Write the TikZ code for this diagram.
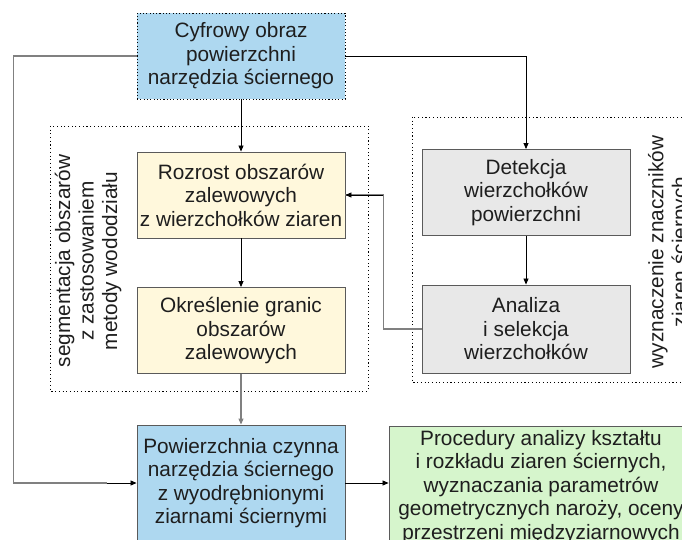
\documentclass[tikz,border=0pt]{standalone}
\usepackage{fontspec}
\setmainfont{Liberation Sans}
\usetikzlibrary{arrows.meta}
\definecolor{boxblue}{RGB}{174,216,240}
\definecolor{boxyellow}{RGB}{255,248,220}
\definecolor{boxgray}{RGB}{232,232,232}
\definecolor{boxgreen}{RGB}{214,245,204}
\definecolor{edgegray}{RGB}{90,90,90}
\definecolor{linegray}{RGB}{128,128,128}
\definecolor{txt}{RGB}{30,30,30}
\tikzset{
  txtfont/.style={font=\fontsize{20.8}{23.5}\selectfont, text=txt},
  procbox/.style={txtfont, draw=edgegray, line width=0.9pt, align=center,
    inner sep=0pt, minimum width=208pt, minimum height=86pt},
  groupframe/.style={draw=black, line width=0.8pt, dash pattern=on 1.1pt off 2.6pt},
  sidelabel/.style={txtfont, rotate=90, align=center, inner sep=0pt},
  flow/.style={draw=black, line width=0.8pt, -{Triangle[length=6pt,width=5pt]}},
  graylink/.style={draw=linegray, line width=1.1pt},
}
\begin{document}
\begin{tikzpicture}[x=1pt,y=-1pt]
\useasboundingbox (0,0) rectangle (682,540);
\clip (0,0) rectangle (682,540);

% group frames
\draw[groupframe] (50,126) rectangle (368,391);
\draw[groupframe] (412,117) rectangle (700,382);

% process boxes
\node[procbox, fill=boxblue, draw=black, dash pattern=on 1.1pt off 2.2pt]
  (src) at (241,56) {Cyfrowy obraz\\powierzchni\\narzędzia ściernego};
\node[procbox, fill=boxyellow] (grow) at (241,195)
  {Rozrost obszarów\\zalewowych\\z wierzchołków ziaren};
\node[procbox, fill=boxyellow] (edge) at (241,330.5)
  {Określenie granic\\obszarów\\zalewowych};
\node[procbox, fill=boxgray] (peak) at (526,192.5)
  {Detekcja\\wierzchołków\\powierzchni};
\node[procbox, fill=boxgray, minimum height=88pt] (sel) at (526,329)
  {Analiza\\i selekcja\\wierzchołków};
\node[procbox, fill=boxblue, minimum height=116pt] (surf) at (241,483)
  {Powierzchnia czynna\\narzędzia ściernego\\z wyodrębnionymi\\ziarnami ściernymi};
\node[procbox, fill=boxgreen, minimum width=304pt, minimum height=122pt] (proc) at (541,487)
  {Procedury analizy kształtu\\i rozkładu ziaren ściernych,\\wyznaczania parametrów\\geometrycznych naroży, oceny\\przestrzeni międzyziarnowych};

% group labels
\node[sidelabel] (lblseg) at (88,261)
  {segmentacja obszarów\\z zastosowaniem\\metody wododziału};
\node[sidelabel] (lblmark) at (669.5,252)
  {wyznaczenie znaczników\\ziaren ściernych};

% connectors
\draw[flow] (src.south) -- (grow.north);
\draw[flow] (grow.south) -- (edge.north);
\draw[flow, draw=linegray, line width=1.1pt] (edge.south) -- (surf.north);
\draw[flow] (src.east) -| (peak.north);
\draw[flow] (peak.south) -- (sel.north);
\draw[flow] (surf.east) -- (surf.east -| proc.west);
\draw[graylink] (sel.west) -- ++(-38,0) |- (grow.east);
\draw[flow] ([xshift=38pt]grow.east) -- (grow.east);
\draw[graylink] (src.west) -- ++(-123,0) |- ([xshift=-30pt]surf.west);
\draw[flow] ([xshift=-30pt]surf.west) -- (surf.west);
\end{tikzpicture}
\end{document}
